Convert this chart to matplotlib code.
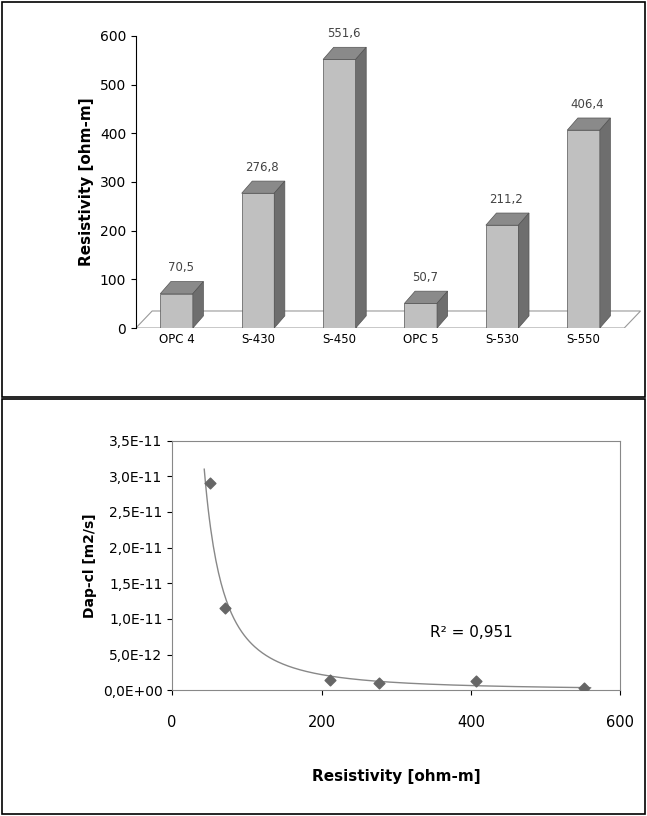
import numpy as np
import matplotlib.pyplot as plt
from matplotlib.patches import Polygon, Rectangle

categories = ['OPC 4', 'S-430', 'S-450', 'OPC 5', 'S-530', 'S-550']
resistivity = [70.5, 276.8, 551.6, 50.7, 211.2, 406.4]

scatter_x = [50.7, 70.5, 211.2, 276.8, 406.4, 551.6]
scatter_y = [2.9e-11, 1.15e-11, 1.5e-12, 1.0e-12, 1.3e-12, 3.0e-13]

fig = plt.figure(figsize=(6.47, 8.16), dpi=100)
# panel borders
fig.add_artist(Rectangle((0.003, 0.513), 0.994, 0.484, transform=fig.transFigure, fill=False, lw=1.2, ec='black'))
fig.add_artist(Rectangle((0.003, 0.003), 0.994, 0.508, transform=fig.transFigure, fill=False, lw=1.2, ec='black'))

# --- top: pseudo 3D bars
ax = fig.add_axes([0.21, 0.598, 0.78, 0.358])
w, dx, dy = 0.4, 0.13, 25
xs = np.arange(len(categories))
n = len(categories)
floor = Polygon([(-0.5, 0), (n - 0.5, 0), (n - 0.5 + 0.2, 1.4 * dy), (-0.5 + 0.2, 1.4 * dy)],
                closed=True, fc='white', ec='#999999', lw=0.8, zorder=1)
ax.add_patch(floor)
for x, v in zip(xs, resistivity):
    l, r = x - w / 2, x + w / 2
    ax.add_patch(Polygon([(l, 0), (r, 0), (r, v), (l, v)], fc='#c0c0c0', ec='#555555', lw=0.5, zorder=3))
    ax.add_patch(Polygon([(l, v), (r, v), (r + dx, v + dy), (l + dx, v + dy)], fc='#8a8a8a', ec='#555555', lw=0.5, zorder=3))
    ax.add_patch(Polygon([(r, 0), (r + dx, dy), (r + dx, v + dy), (r, v)], fc='#6e6e6e', ec='#555555', lw=0.5, zorder=3))
    ax.text(x + 0.05, v + dy + 15, f'{v:.1f}'.replace('.', ','), ha='center', va='bottom', fontsize=8.5, color='#444444')
ax.set_xlim(-0.5, n - 0.5 + 0.2)
ax.set_ylim(0, 600)
ax.set_yticks(range(0, 601, 100))
ax.set_xticks(xs)
ax.set_xticklabels(categories, fontsize=8.5)
ax.tick_params(axis='y', labelsize=10)
ax.tick_params(axis='x', length=0)
for s in ['top', 'right', 'bottom']:
    ax.spines[s].set_visible(False)
ax.set_ylabel('Resistivity [ohm-m]', fontsize=11, fontweight='bold')

# --- bottom: scatter with power fit
ax2 = fig.add_axes([0.266, 0.154, 0.693, 0.306])
ax2.scatter(scatter_x, scatter_y, marker='D', s=30, color='#666666', zorder=3)
b, loga = np.polyfit(np.log(scatter_x), np.log(scatter_y), 1)
x0 = (3.1e-11 / np.exp(loga)) ** (1 / b)
xf = np.linspace(x0, 560, 300)
yf = np.exp(loga) * xf ** b
ax2.plot(xf, yf, color='#888888', lw=1)
ax2.text(400, 7.5e-12, 'R² = 0,951', fontsize=11, ha='center')
ax2.set_xlim(0, 600)
ax2.set_ylim(0, 3.5e-11)
ax2.set_xticks([0, 200, 400, 600])
yt = np.arange(0, 3.51e-11, 0.5e-11)
ax2.set_yticks(yt)
ax2.set_yticklabels(['0,0E+00'] + [f'{t:.1E}'.replace('.', ',') for t in yt[1:]], fontsize=10)
ax2.tick_params(axis='x', labelsize=10.5, pad=14)
for s in ax2.spines.values():
    s.set_color('#888888')
ax2.set_xlabel('Resistivity [ohm-m]', fontsize=11, fontweight='bold', labelpad=28)
ax2.set_ylabel('Dap-cl [m2/s]', fontsize=10, fontweight='bold')

fig.savefig('out.png', dpi=100)
